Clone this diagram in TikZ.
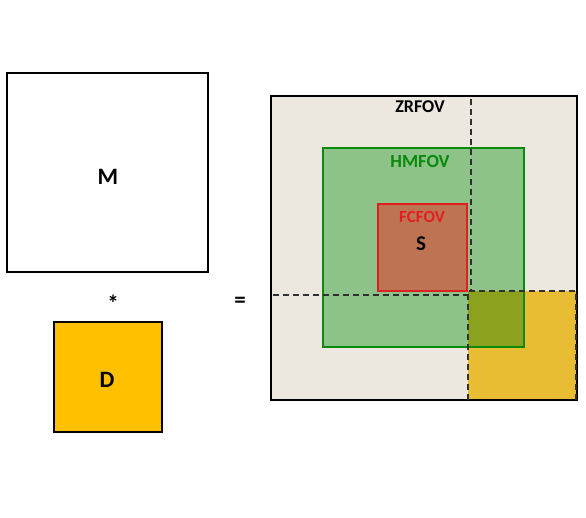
\documentclass[tikz,border=0pt]{standalone}
\usepackage{fontspec}
\setmainfont{Carlito}
\definecolor{beige}{HTML}{ECE8DF}
\definecolor{gfill}{HTML}{8DC288}
\definecolor{gline}{HTML}{0A8A0A}
\definecolor{rfill}{HTML}{BE7452}
\definecolor{rline}{HTML}{E02020}
\definecolor{yfill}{HTML}{E9BD33}
\definecolor{ofill}{HTML}{8CA21F}
\definecolor{dfill}{HTML}{FFC000}
\definecolor{dashc}{HTML}{303030}
\begin{document}
\begin{tikzpicture}[x=1pt,y=-1pt,
  lbl/.style={font=\bfseries},
  box/.style={draw=black, line width=1.3pt},
  dsh/.style={draw=dashc, dashed, dash pattern=on 6pt off 4pt, line width=1.1pt}]
\useasboundingbox (0,0) rectangle (586,517);
% left side
\draw[box] (7,73) rectangle (208,272);
\node[lbl, font=\bfseries\fontsize{23.5}{26}\selectfont] (M) at (108,177) {M};
\node[lbl, font=\bfseries\fontsize{23}{26}\selectfont] (star) at (113,303) {*};
\node[lbl, font=\bfseries\fontsize{23}{26}\selectfont] (eq) at (240,302) {=};
\draw[box, fill=dfill] (54,322) rectangle (162,432);
\node[lbl, font=\bfseries\fontsize{23.5}{26}\selectfont] (D) at (107,380) {D};
% right side
\fill[beige] (271,96) rectangle (577,400);
\fill[gfill] (323,148) rectangle (524,347);
\fill[rfill] (378,204) rectangle (467,291);
\fill[yfill] (468,291) rectangle (576,400);
\fill[ofill] (468,291) rectangle (524,347);
\draw[gline, line width=1.2pt] (323,148) rectangle (524,347);
\draw[rline, line width=1.2pt] (378,204) rectangle (467,291);
\draw[box] (271,96) rectangle (577,400);
\coordinate (vt) at (471,99);
\coordinate (vb) at (471,291);
\coordinate (hl) at (273,295);
\coordinate (hr) at (468,295);
\draw[dsh] (vt) -- (vb);
\draw[dsh] (hl) -- (hr);
\draw[dsh] (468,400) -- (468,291) -- (576,291) -- (576,400);
\node[lbl, font=\bfseries\fontsize{18}{22}\selectfont] (zr) at (420,107) {ZRFOV};
\node[lbl, text=gline, font=\bfseries\fontsize{18.5}{22}\selectfont] (hm) at (420,161) {HMFOV};
\node[lbl, text=rline, font=\bfseries\fontsize{17}{22}\selectfont] (fc) at (422,217) {FCFOV};
\node[lbl, font=\bfseries\fontsize{21}{24}\selectfont] (S) at (421,244) {S};
\end{tikzpicture}
\end{document}
